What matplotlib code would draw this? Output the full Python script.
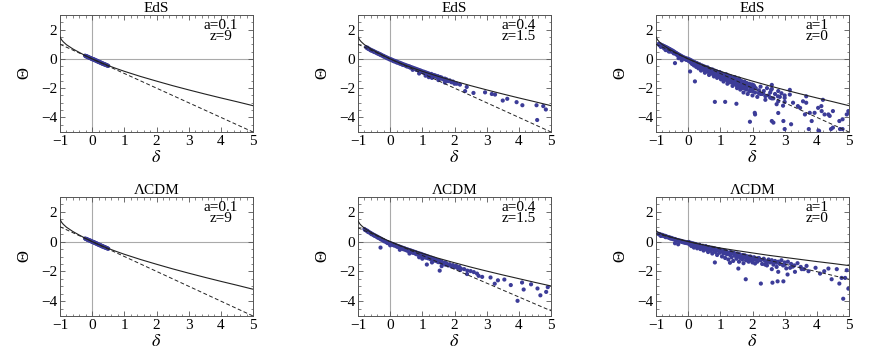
import matplotlib
matplotlib.use("Agg")
import matplotlib.pyplot as plt
from matplotlib.ticker import MultipleLocator

plt.rcParams['font.family'] = ['Liberation Serif', 'DejaVu Serif']
plt.rcParams['mathtext.fontset'] = 'stix'

# ---------------- data ----------------
titles = ["EdS", "EdS", "EdS", "ΛCDM", "ΛCDM", "ΛCDM"]
labels = ["a=0.1\nz=9", "a=0.4\nz=1.5", "a=1\nz=0",
          "a=0.1\nz=9", "a=0.4\nz=1.5", "a=1\nz=0"]

curve_delta = [-1, -0.95, -0.9, -0.8, -0.6, -0.4, -0.2, 0, 0.25, 0.5, 0.75, 1,
               1.5, 2, 2.5, 3, 3.5, 4, 4.5, 5]
eds_solid = [1.50, 1.30, 1.17, 0.97, 0.68, 0.44, 0.21, 0, -0.24, -0.46, -0.66,
             -0.85, -1.20, -1.52, -1.83, -2.12, -2.40, -2.67, -2.93, -3.20]
lcdm04_solid = [1.40, 1.21, 1.09, 0.90, 0.63, 0.41, 0.20, 0, -0.22, -0.43, -0.61,
                -0.79, -1.12, -1.42, -1.71, -1.98, -2.24, -2.49, -2.74, -2.98]
lcdm1_solid = [0.74, 0.65, 0.59, 0.49, 0.34, 0.22, 0.11, 0, -0.12, -0.23, -0.33,
               -0.43, -0.60, -0.76, -0.92, -1.06, -1.20, -1.34, -1.47, -1.61]

line_delta = [-1, 5]
eds_dashed = [1.0, -5.0]
lcdm04_dashed = [0.93, -4.65]
lcdm1_dashed = [0.53, -2.53]

# EdS a=0.1
p1_d = [-0.22, -0.2, -0.18, -0.16, -0.15, -0.13, -0.12, -0.1, -0.08, -0.06, -0.05, -0.03,
        -0.01, 0, 0.02, 0.04, 0.05, 0.07, 0.08, 0.1, 0.12, 0.14, 0.15, 0.17, 0.18, 0.2,
        0.22, 0.23, 0.25, 0.27, 0.28, 0.3, 0.32, 0.33, 0.35, 0.37, 0.38, 0.4, 0.42, 0.44,
        0.46, 0.48, 0.5]
p1_t = [0.22, 0.18, 0.19, 0.14, 0.16, 0.11, 0.13, 0.08, 0.09, 0.05, 0.06, 0.02,
        0.02, -0.02, -0.01, -0.05, -0.03, -0.08, -0.06, -0.11, -0.1, -0.15, -0.13, -0.18,
        -0.16, -0.21, -0.2, -0.24, -0.23, -0.28, -0.26, -0.31, -0.3, -0.34, -0.33, -0.37,
        -0.36, -0.4, -0.39, -0.43, -0.44, -0.46, -0.48]

# EdS a=0.4
p2_d = [-0.75, -0.72, -0.7, -0.68, -0.65, -0.62, -0.6, -0.58, -0.55, -0.52, -0.5, -0.48,
        -0.45, -0.42, -0.4, -0.38, -0.35, -0.32, -0.3, -0.28, -0.25, -0.22, -0.2, -0.18,
        -0.15, -0.12, -0.1, -0.08, -0.05, -0.02, 0, 0.02, 0.05, 0.08, 0.1, 0.12, 0.15,
        0.18, 0.2, 0.22, 0.25, 0.28, 0.3, 0.32, 0.35, 0.38, 0.4, 0.42, 0.45, 0.48, 0.5,
        0.52, 0.55, 0.58, 0.6, 0.62, 0.65, 0.68, 0.7, 0.72, 0.75, 0.78, 0.8, 0.82, 0.85,
        0.88, 0.9, 0.92, 0.95, 0.98, 1.0, 1.02, 1.05, 1.08, 1.1, 1.12, 1.15, 1.18, 1.2,
        1.25, 1.28, 1.3, 1.35, 1.38, 1.4, 1.45, 1.48, 1.5, 1.55, 1.58, 1.6, 1.65, 1.7,
        1.72, 1.75, 1.8, 1.85, 1.9, 1.95, 2.0, 0.9, 1.1, 1.3, 1.5, 1.7, 0.7, 1.2,
        1.91, 2.07, 2.17, 2.33, 2.38, 2.59, 2.95, 3.16, 3.26, 3.5, 3.64, 3.93, 4.11,
        4.55, 4.57, 4.76, 4.84]
p2_t = [0.8, 0.74, 0.76, 0.68, 0.68, 0.6, 0.62, 0.56, 0.57, 0.5, 0.52, 0.46,
        0.46, 0.4, 0.41, 0.35, 0.36, 0.29, 0.31, 0.25, 0.25, 0.18, 0.2, 0.14,
        0.14, 0.08, 0.09, 0.03, 0.04, -0.03, -0.01, -0.06, -0.05, -0.13, -0.1, -0.17, -0.14,
        -0.22, -0.18, -0.26, -0.23, -0.3, -0.27, -0.34, -0.31, -0.4, -0.36, -0.42, -0.4,
        -0.47, -0.44, -0.52, -0.48, -0.55, -0.51, -0.6, -0.56, -0.63, -0.6, -0.68, -0.64,
        -0.7, -0.68, -0.76, -0.72, -0.8, -0.76, -0.84, -0.8, -0.88, -0.85, -0.93, -0.88,
        -0.97, -0.92, -1.0, -0.96, -1.05, -1.0, -1.1, -1.03, -1.15, -1.1, -1.2, -1.13,
        -1.25, -1.18, -1.3, -1.24, -1.35, -1.28, -1.4, -1.35, -1.48, -1.4, -1.52, -1.47,
        -1.58, -1.55, -1.7, -1.0, -1.15, -1.3, -1.45, -1.62, -0.75, -1.25,
        -1.6, -1.7, -1.76, -2.2, -1.92, -2.33, -2.29, -2.4, -2.44, -2.85, -2.73, -2.96,
        -3.17, -3.17, -4.18, -3.23, -3.46]

# EdS a=1
p3_d = [-0.92, -0.9, -0.88, -0.86, -0.85, -0.82, -0.8, -0.78, -0.76, -0.74, -0.72, -0.7,
        -0.68, -0.66, -0.64, -0.62, -0.6, -0.58, -0.56, -0.54, -0.52, -0.5, -0.48, -0.46,
        -0.44, -0.42, -0.4, -0.38, -0.36, -0.34, -0.32, -0.3, -0.28, -0.26, -0.24, -0.22,
        -0.2, -0.18, -0.16, -0.14, -0.12, -0.1, -0.08, -0.06, -0.04, -0.02, 0, -0.41,
        -0.3, -0.2, -0.6, -0.7,
        0.02, 0.05, 0.08, 0.1, 0.12, 0.15, 0.18, 0.2, 0.22, 0.25, 0.28, 0.3, 0.32, 0.35,
        0.38, 0.4, 0.42, 0.45, 0.48, 0.5, 0.52, 0.55, 0.58, 0.6, 0.62, 0.65, 0.68, 0.7,
        0.72, 0.75, 0.78, 0.8, 0.82, 0.85, 0.88, 0.9, 0.92, 0.95, 0.98, 1.0, 1.02, 1.05,
        1.08, 1.1, 1.12, 1.15, 1.18, 1.2, 1.22, 1.25, 1.28, 1.3, 1.32, 1.35, 1.38, 1.4,
        1.42, 1.45, 1.48, 1.5, 1.52, 1.55, 1.58, 1.6, 1.62, 1.65, 1.68, 1.7, 1.72, 1.75,
        1.78, 1.8, 1.82, 1.85, 1.88, 1.9, 1.92, 1.95, 1.98, 2.0, 2.02, 2.05, 2.08,
        2.1, 2.15, 2.2, 2.25, 2.3, 2.35, 2.4, 2.45, 2.5, 2.55, 2.6, 2.65, 2.7, 2.75, 2.8,
        2.85, 2.9, 2.95, 3.0,
        0.06, 0.21, 0.83, 1.15, 1.5, 1.92, 2.08, 2.65, 2.8, 3.0, 3.2, 3.48, 3.63, 3.84,
        4.05, 4.15, 4.36, 4.5, 4.72, 4.93, 4.98,
        2.02, 2.33, 2.58, 2.79, 3.0, 3.16, 3.26, 3.41, 3.57, 3.67, 3.78, 3.93, 4.04, 4.14,
        4.24, 4.4, 4.5, 4.7, 4.8, 5.0, 2.07, 2.6, 2.96, 3.0, 3.75, 4.07, 4.44, 4.8, 3.16,
        3.67, 4.19, 2.6,
        0.1, 0.25, 0.35, 0.45, 0.55, 0.65, 0.75, 0.85, 0.95, 1.05, 1.15, 1.25, 1.35, 1.45,
        1.55, 1.65, 1.75, 1.85, 1.95, 0.3, 0.5, 0.7, 0.9, 1.1, 1.3, 1.5, 1.7, 1.9,
        0.2, 0.4, 0.6, 0.8, 1.0, 1.2, 1.4, 1.6, 1.8, 2.0, 2.2, 2.4, 2.6, 2.8,
        0.15, 0.45, 0.75, 1.05, 1.35, 1.65, 1.95, 2.25, 2.55,
        -0.85, -0.75, -0.65, -0.55, -0.45, -0.35, -0.25, -0.15, -0.05]
p3_t = [1.02, 0.95, 1.0, 0.9, 0.97, 0.88, 0.93, 0.82, 0.88, 0.78, 0.84, 0.73,
        0.8, 0.7, 0.75, 0.64, 0.7, 0.6, 0.66, 0.55, 0.6, 0.5, 0.56, 0.44,
        0.5, 0.38, 0.44, 0.34, 0.39, 0.28, 0.33, 0.22, 0.28, 0.18, 0.23, 0.12,
        0.18, 0.08, 0.13, 0.03, 0.09, -0.02, 0.05, -0.05, 0.02, -0.08, 0.0, -0.29,
        0.05, -0.1, 0.5, 0.6,
        -0.15, -0.05, -0.25, -0.12, -0.35, -0.18, -0.45, -0.22, -0.3, -0.55, -0.3, -0.42,
        -0.65, -0.38, -0.5, -0.8, -0.45, -0.6, -0.72, -0.52, -0.95, -0.62, -0.78, -0.58,
        -0.88, -1.1, -0.7, -0.82, -1.0, -0.72, -0.9, -1.2, -0.8, -1.05, -0.85, -1.3,
        -0.95, -1.15, -0.9, -1.05, -1.4, -1.0, -1.2, -1.55, -1.1, -1.3, -1.05, -1.45,
        -1.7, -1.15, -1.35, -1.6, -1.2, -1.5, -1.85, -1.3, -1.6, -1.25, -1.75, -1.4,
        -2.0, -1.55, -1.35, -1.8, -2.1, -1.5, -1.65, -1.95, -2.3, -1.55, -1.8, -2.1,
        -1.65, -2.4, -1.9, -1.7, -2.2, -2.0, -1.75, -2.5, -2.05, -1.85, -2.3,
        -2.0, -2.6, -2.15, -1.9, -2.4, -2.2, -2.8, -2.0, -2.5, -2.3, -2.05, -2.7, -2.4,
        -3.1, -2.2, -2.6, -2.35, -3.2, -2.5,
        -0.86, -1.54, -2.94, -2.94, -3.07, -4.3, -3.8, -4.36, -3.7, -2.94, -4.47, -3.35,
        -3.8, -4.25, -4.9, -3.57, -3.8, -4.7, -4.8, -3.8, -3.57,
        -1.78, -2.35, -2.12, -2.56, -2.67, -2.44, -3.0, -3.23, -2.9, -3.0, -3.69, -3.69,
        -3.35, -3.23, -3.8, -3.9, -3.57, -4.25, -4.13, -3.69, -3.69, -4.25, -4.25, -4.8,
        -4.8, -4.93, -4.8, -4.8, -2.12, -2.56, -2.8, -1.78,
        -0.12, -0.28, -0.38, -0.48, -0.58, -0.68, -0.78, -0.88, -0.98, -1.08, -1.18, -1.28,
        -1.38, -1.48, -1.58, -1.68, -1.78, -1.88, -1.98, -0.5, -0.75, -0.95, -1.15, -1.35,
        -1.55, -1.8, -2.0, -2.2,
        -0.4, -0.65, -0.85, -1.05, -1.25, -1.42, -1.65, -1.85, -2.05, -2.2, -2.35, -2.55,
        -2.7, -2.9,
        -0.3, -0.7, -1.0, -1.3, -1.6, -1.9, -2.15, -2.4, -2.65,
        0.82, 0.72, 0.6, 0.5, 0.38, 0.28, 0.16, 0.06, -0.06]

# LCDM a=0.1
p4_d = list(p1_d)
p4_t = [0.21, 0.18, 0.18, 0.14, 0.15, 0.11, 0.12, 0.08, 0.09, 0.05, 0.06, 0.02,
        0.02, -0.02, -0.01, -0.05, -0.03, -0.08, -0.06, -0.11, -0.1, -0.15, -0.13, -0.18,
        -0.16, -0.21, -0.2, -0.24, -0.23, -0.28, -0.26, -0.31, -0.3, -0.34, -0.33, -0.37,
        -0.36, -0.4, -0.39, -0.43, -0.44, -0.46, -0.48]

# LCDM a=0.4
p5_d = [-0.8, -0.78, -0.75, -0.72, -0.7, -0.68, -0.65, -0.62, -0.6, -0.58, -0.55, -0.52,
        -0.5, -0.48, -0.45, -0.42, -0.4, -0.38, -0.35, -0.32, -0.3, -0.28, -0.25, -0.22,
        -0.2, -0.18, -0.15, -0.12, -0.1, -0.08, -0.05, -0.02, 0, 0.02, 0.05, 0.08, 0.1,
        0.12, 0.15, 0.18, 0.2, 0.22, 0.25, 0.28, 0.3, 0.32, 0.35, 0.38, 0.4, 0.42, 0.45,
        0.48, 0.5, 0.52, 0.55, 0.58, 0.6, 0.62, 0.65, 0.68, 0.7, 0.72, 0.75, 0.78, 0.8,
        0.82, 0.85, 0.88, 0.9, 0.92, 0.95, 0.98, 1.0, 1.02, 1.05, 1.08, 1.1, 1.12, 1.15,
        1.18, 1.2, 1.25, 1.28, 1.3, 1.35, 1.38, 1.4, 1.45, 1.48, 1.5, 1.55, 1.58, 1.6,
        1.65, 1.7, 1.72, 1.75, 1.8, 1.85, 1.9, 1.95, 2.0, 2.05, 2.1, 2.15, 2.2, 2.3, 2.4,
        2.5, 2.6, 2.7, -0.3, 0.0, 0.3, 0.6, 0.9, 1.0, 1.3, 1.6,
        1.14, 1.54, 2.18, 2.39, 2.86, 3.12, 3.25, 3.75, 3.96, 4.15, 4.38, 4.58, 4.67,
        4.85, 4.9, 3.35, 3.55, 4.1, 2.75]
p5_t = [0.85, 0.78, 0.78, 0.7, 0.72, 0.64, 0.64, 0.57, 0.58, 0.5, 0.51, 0.44,
        0.45, 0.38, 0.39, 0.32, 0.33, 0.26, 0.27, 0.2, 0.21, 0.14, 0.15, 0.08,
        0.09, 0.02, 0.03, -0.04, -0.03, -0.1, -0.07, -0.14, -0.1, -0.17, -0.14, -0.22,
        -0.18, -0.26, -0.22, -0.3, -0.26, -0.35, -0.3, -0.4, -0.34, -0.44, -0.38, -0.48,
        -0.42, -0.52, -0.45, -0.56, -0.5, -0.6, -0.53, -0.65, -0.57, -0.68, -0.6, -0.72,
        -0.64, -0.76, -0.68, -0.8, -0.71, -0.85, -0.76, -0.88, -0.79, -0.92, -0.82, -0.97,
        -0.86, -1.0, -0.9, -1.05, -0.94, -1.08, -0.98, -1.12, -1.02, -1.18, -1.08, -1.22,
        -1.14, -1.28, -1.18, -1.32, -1.24, -1.38, -1.3, -1.42, -1.34, -1.48, -1.4, -1.55,
        -1.46, -1.6, -1.52, -1.66, -1.58, -1.72, -1.62, -1.78, -1.7, -1.82, -1.85, -1.95,
        -1.98, -2.05, -2.15, -0.4, -0.25, -0.55, -0.8, -1.05, -1.15, -1.4, -1.65,
        -1.54, -1.95, -1.91, -2.18, -2.37, -2.41, -2.83, -2.92, -3.98, -3.22, -2.87,
        -3.15, -3.61, -3.38, -3.06, -2.6, -2.55, -2.75, -2.3]

# LCDM a=1
p6_d = [-0.92, -0.9, -0.88, -0.85, -0.82, -0.8, -0.78, -0.75, -0.72, -0.7, -0.68, -0.65,
        -0.62, -0.6, -0.58, -0.55, -0.52, -0.5, -0.48, -0.45, -0.42, -0.4, -0.38, -0.35,
        -0.32, -0.3, -0.28, -0.25, -0.22, -0.2, -0.18, -0.15, -0.12, -0.1, -0.08, -0.05,
        -0.02, 0, -0.41, -0.31,
        0.02, 0.05, 0.08, 0.1, 0.12, 0.15, 0.18, 0.2, 0.22, 0.25, 0.28, 0.3, 0.32, 0.35,
        0.38, 0.4, 0.42, 0.45, 0.48, 0.5, 0.52, 0.55, 0.58, 0.6, 0.62, 0.65, 0.68, 0.7,
        0.72, 0.75, 0.78, 0.8, 0.82, 0.85, 0.88, 0.9, 0.92, 0.95, 0.98, 1.0, 1.02, 1.05,
        1.08, 1.1, 1.12, 1.15, 1.18, 1.2, 1.22, 1.25, 1.28, 1.3, 1.32, 1.35, 1.38, 1.4,
        1.42, 1.45, 1.48, 1.5, 1.52, 1.55, 1.58, 1.6, 1.62, 1.65, 1.68, 1.7, 1.72, 1.75,
        1.78, 1.8, 1.82, 1.85, 1.88, 1.9, 1.92, 1.95, 1.98, 2.0,
        2.05, 2.1, 2.15, 2.2, 2.25, 2.3, 2.35, 2.4, 2.45, 2.5, 2.55, 2.6, 2.65, 2.7, 2.75,
        2.8, 2.85, 2.9, 2.95, 3.0, 3.05, 3.1, 3.2, 3.3, 3.4, 3.5,
        0.83, 1.79, 2.26, 2.62, 2.78, 2.96, 3.09, 2.6, 2.8, 3.32, 3.53, 3.74, 3.96, 4.1,
        4.23, 4.36, 4.46, 4.62, 4.7, 4.77, 4.88, 4.82, 4.93, 4.98, 1.3, 1.56, 2.08, 2.39,
        3.17, 3.68,
        0.15, 0.35, 0.55, 0.75, 0.95, 1.15, 1.35, 1.55, 1.75, 1.95, 2.15, 2.35, 2.55, 2.75,
        0.45, 0.85, 1.25, 1.65, 2.05, 2.45,
        0.25, 0.65, 1.05, 1.45, 1.85, 2.25, 2.65, 3.0, 3.25, 3.6,
        -0.85, -0.7, -0.55, -0.4, -0.25, -0.1]
p6_t = [0.52, 0.48, 0.5, 0.44, 0.46, 0.4, 0.43, 0.37, 0.39, 0.33, 0.36, 0.3,
        0.31, 0.26, 0.29, 0.22, 0.25, 0.19, 0.21, 0.15, 0.18, 0.12, 0.14, 0.08,
        0.11, 0.05, 0.08, 0.02, 0.05, -0.02, 0.02, -0.05, -0.01, -0.08, -0.03, -0.1,
        -0.05, -0.12, -0.11, -0.18,
        -0.02, -0.2, -0.08, -0.3, -0.12, -0.22, -0.4, -0.15, -0.28, -0.2, -0.45, -0.25,
        -0.35, -0.22, -0.5, -0.3, -0.4, -0.28, -0.6, -0.35, -0.45, -0.32, -0.55, -0.4,
        -0.7, -0.38, -0.5, -0.62, -0.42, -0.8, -0.5, -0.58, -0.45, -0.7, -0.52, -0.9,
        -0.6, -0.5, -0.75, -0.55, -0.65, -1.0, -0.6, -0.8, -0.7, -1.1, -0.65, -0.85,
        -0.72, -1.2, -0.75, -0.9, -0.7, -1.05, -0.8, -1.3, -0.75, -0.95, -0.85, -1.15,
        -0.8, -1.0, -1.35, -0.85, -1.1, -0.95, -1.2, -0.9, -1.45, -1.05, -0.95, -1.25,
        -1.1, -1.0, -1.35, -1.15, -1.0, -1.25, -1.1, -1.4,
        -1.05, -1.2, -1.35, -1.1, -1.25, -1.5, -1.15, -1.3, -1.6, -1.2, -1.4, -1.25,
        -1.55, -1.3, -1.7, -1.35, -1.5, -1.25, -1.6, -1.4, -1.8, -1.35, -1.5, -1.6,
        -1.45, -1.7,
        -1.4, -2.53, -2.82, -2.76, -2.67, -2.67, -2.21, -1.85, -2.03, -2.03, -1.85,
        -1.99, -1.76, -2.15, -1.99, -1.81, -2.53, -1.85, -2.82, -2.44, -2.44, -3.84,
        -1.92, -3.16, -1.42, -1.81, -1.47, -1.54, -1.76, -1.63,
        -0.12, -0.22, -0.32, -0.42, -0.52, -0.62, -0.72, -0.82, -0.92, -1.02, -1.12,
        -1.22, -1.32, -1.42, -0.36, -0.58, -0.8, -1.0, -1.2, -1.4,
        -0.18, -0.42, -0.62, -0.82, -1.02, -1.22, -1.42, -1.55, -1.68, -1.85,
        0.38, 0.3, 0.22, 0.14, 0.06, -0.02]

panels = [
    (p1_d, p1_t, eds_solid, eds_dashed),
    (p2_d, p2_t, eds_solid, eds_dashed),
    (p3_d, p3_t, eds_solid, eds_dashed),
    (p4_d, p4_t, eds_solid, eds_dashed),
    (p5_d, p5_t, lcdm04_solid, lcdm04_dashed),
    (p6_d, p6_t, lcdm1_solid, lcdm1_dashed),
]

# ---------------- figure ----------------
fig = plt.figure(figsize=(8.72, 3.54), dpi=100)
lefts = [60 / 872, 358 / 872, 656 / 872]
width = 193 / 872
rows = [((354 - 132) / 354, 117 / 354), ((354 - 316) / 354, 119 / 354)]

point_color = '#3c3c98'
frame_color = '#555555'

for i, (pd_, pt_, solid, dashed) in enumerate(panels):
    r, c = divmod(i, 3)
    bottom, height = rows[r]
    ax = fig.add_axes([lefts[c], bottom, width, height])
    ax.set_xlim(-1, 5)
    ax.set_ylim(-5, 3)
    ax.axhline(0, color='#aaaaaa', lw=0.8, zorder=0)
    ax.axvline(0, color='#aaaaaa', lw=0.8, zorder=0)
    ax.scatter(pd_, pt_, s=9, color=point_color, edgecolors='none', zorder=2)
    ax.plot(curve_delta, solid, color='#222222', lw=0.8, zorder=3)
    ax.plot(line_delta, dashed, color='#222222', lw=0.7, ls=(0, (4, 2.5)), zorder=3)
    ax.set_title(titles[i], fontsize=11, pad=1.5)
    ax.text(4.0, 2.75, labels[i], ha='center', va='top', fontsize=11,
            multialignment='center', linespacing=0.8)
    ax.set_xlabel(r'$\delta$', fontsize=13, labelpad=1)
    ax.set_ylabel('Θ', fontsize=12, labelpad=6)
    ax.xaxis.set_major_locator(MultipleLocator(1))
    ax.xaxis.set_minor_locator(MultipleLocator(0.2))
    ax.yaxis.set_major_locator(MultipleLocator(2))
    ax.yaxis.set_minor_locator(MultipleLocator(0.5))
    ax.tick_params(which='both', direction='in', top=True, right=True,
                   color=frame_color, labelsize=11, pad=2)
    ax.tick_params(which='major', length=3.5, width=0.6)
    ax.tick_params(which='minor', length=1.8, width=0.5)
    ax.set_xticks([-1, 0, 1, 2, 3, 4, 5])
    ax.set_xticklabels(['−1', '0', '1', '2', '3', '4', '5'])
    ax.set_yticks([-4, -2, 0, 2])
    ax.set_yticklabels(['−4', '−2', '0', '2'])
    for s in ax.spines.values():
        s.set_color(frame_color)
        s.set_linewidth(0.7)

fig.savefig('out.png', dpi=100)
